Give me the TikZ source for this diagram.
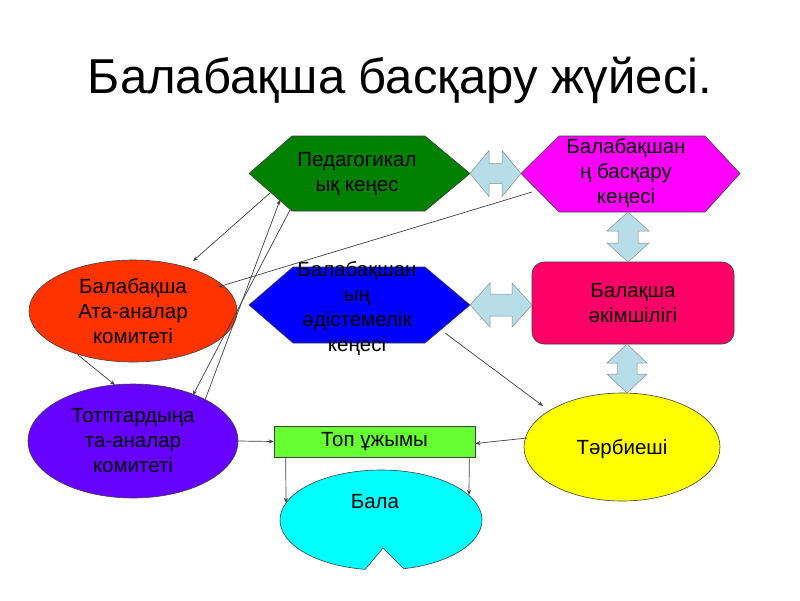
\documentclass[tikz,border=0pt]{standalone}
\usepackage{fontspec}
\setmainfont{Liberation Sans}
\usetikzlibrary{shapes.geometric,arrows.meta,calc}
\definecolor{hexgreen}{HTML}{008000}
\definecolor{hexmag}{HTML}{FF00FF}
\definecolor{hexblue}{HTML}{0000FF}
\definecolor{admred}{HTML}{FF0066}
\definecolor{parorange}{HTML}{FF3300}
\definecolor{grppurple}{HTML}{6600FF}
\definecolor{teamlime}{HTML}{66FF33}
\definecolor{childcyan}{HTML}{00FFFF}
\definecolor{tchyellow}{HTML}{FFFF00}
\definecolor{arrowblue}{HTML}{B7DDE8}
\begin{document}
\begin{tikzpicture}[x=1pt,y=-1pt,
  shapeline/.style={draw=black!75, line width=0.6pt},
  txt/.style={font=\fontsize{20.5}{25}\selectfont, align=center, text=black, inner sep=0pt},
  conn/.style={draw=black!75, line width=0.7pt, -{Stealth[length=5pt,width=4pt]}},
  fat/.style={draw=black!45, line width=0.5pt, fill=arrowblue},
  ell/.style={ellipse, shapeline, inner sep=0pt},
]
\useasboundingbox[fill=white] (0,0) rectangle (800,600);

% title
\node[font=\fontsize{49}{58}\selectfont, anchor=base, inner sep=0pt] (title) at (400,93) {Балабақша басқару жүйесі.};

% hexagons
\path[shapeline, fill=hexgreen] (249,173.5) -- (292,136) -- (425,136) -- (470,173.5) -- (425,211) -- (292,211) -- cycle;
\node[txt] (ped) at (357,174) {Педагогикал\\ық кеңес};

\path[shapeline, fill=hexmag] (521,173.5) -- (559,136) -- (705,136) -- (740,173.5) -- (705,212) -- (559,212) -- cycle;
\node[txt] (board) at (626,173) {Балабақшан\\ң басқару\\кеңесі};

\path[shapeline, fill=hexblue] (249,305) -- (293,267) -- (425,267) -- (470,305) -- (425,343) -- (293,343) -- cycle;
\node[txt] (method) at (357,309) {Балабақшан\\ың\\әдістемелік\\кеңесі};

% administration
\node[shapeline, fill=admred, rounded corners=12pt, minimum width=202pt, minimum height=82pt, txt] (adm) at (633,303) {Балақша\\әкімшілігі};

% ellipses
\node[ell, fill=parorange, minimum width=208pt, minimum height=102pt] (par) at (133,311) {};
\node[txt] (partxt) at (par) {Балабақша\\Ата-аналар\\комитеті};

\node[ell, fill=grppurple, minimum width=210pt, minimum height=114pt] (grp) at (133,441) {};
\node[txt] (grptxt) at (133,441) {Тотптардыңа\\та-аналар\\комитеті};

\node[ell, fill=tchyellow, minimum width=196pt, minimum height=108pt] (tch) at (622,447) {};
\node[txt] (tchtxt) at (622,449) {Тәрбиеші};

% team
\node[shapeline, fill=teamlime, minimum width=201pt, minimum height=31pt, txt] (team) at (374.5,441.5) {Топ ұжымы};

% child (ellipse with notch)
\path[shapeline, fill=childcyan] (381,520) ++(77:101 and 50) arc[start angle=77, end angle=-261, x radius=101, y radius=50] -- (383,548) -- cycle;
\node[txt] (child) at (375,502) {Бала};

% fat double arrows
\coordinate (pedR) at (470,173.5);
\coordinate (magL) at (521,173.5);
\path[fat] let \p1=(pedR), \p2=(magL) in (\x1,\y1) -- (\x1+19pt,\y1+23pt) -- (\x1+19pt,\y1+10pt) -- (\x2-19pt,\y1+10pt) -- (\x2-19pt,\y1+23pt) -- (\x2,\y1) -- (\x2-19pt,\y1-23pt) -- (\x2-19pt,\y1-10pt) -- (\x1+19pt,\y1-10pt) -- (\x1+19pt,\y1-23pt) -- cycle;

\coordinate (metR) at (470,305);
\coordinate (admL) at (532,305);
\path[fat] let \p1=(metR), \p2=(admL) in (\x1,\y1) -- (\x1+20pt,\y1+22pt) -- (\x1+20pt,\y1+11pt) -- (\x2-20pt,\y1+11pt) -- (\x2-20pt,\y1+22pt) -- (\x2,\y1) -- (\x2-20pt,\y1-22pt) -- (\x2-20pt,\y1-11pt) -- (\x1+20pt,\y1-11pt) -- (\x1+20pt,\y1-22pt) -- cycle;

\coordinate (magB) at (628,212);
\coordinate (admT) at (628,262);
\path[fat] let \p1=(magB), \p2=(admT) in (\x1,\y1) -- (\x1+21pt,\y1-19pt) -- (\x1+10pt,\y1-19pt) -- (\x1+10pt,\y2+19pt) -- (\x1+21pt,\y2+19pt) -- (\x1,\y2) -- (\x1-21pt,\y2+19pt) -- (\x1-10pt,\y2+19pt) -- (\x1-10pt,\y1-19pt) -- (\x1-21pt,\y1-19pt) -- cycle;

\coordinate (admB) at (627,344);
\coordinate (tchT) at (627,393);
\path[fat] let \p1=(admB), \p2=(tchT) in (\x1,\y1) -- (\x1+20pt,\y1-19pt) -- (\x1+10pt,\y1-19pt) -- (\x1+10pt,\y2+19pt) -- (\x1+20pt,\y2+19pt) -- (\x1,\y2) -- (\x1-20pt,\y2+19pt) -- (\x1-10pt,\y2+19pt) -- (\x1-10pt,\y1-19pt) -- (\x1-20pt,\y1-19pt) -- cycle;

% thin connectors
\coordinate (pedSW) at (270,193);
\coordinate (parN) at (193,261);
\draw[conn] (pedSW) -- (parN);
\coordinate (magSW) at (532,192);
\coordinate (parNE) at (218,287);
\draw[conn] (magSW) -- (parNE);
\coordinate (pedB1) at (290,210);
\coordinate (grpN1) at (193,395);
\draw[conn] (pedB1) -- (grpN1);
\coordinate (grpN2) at (205,400);
\coordinate (pedB2) at (280,200);
\draw[conn] (grpN2) -- (pedB2);
\coordinate (parS) at (78,355);
\coordinate (grpNW) at (115,385);
\draw[conn] (parS) -- (grpNW);
\coordinate (metSE) at (445,333);
\coordinate (tchNW) at (543,406);
\draw[conn] (metSE) -- (tchNW);
\coordinate (tchW) at (527,438);
\draw[conn] (tchW) -- ([yshift=-2pt]team.east);
\draw[conn] (grp.east) -- (team.west);
\coordinate (childL) at (286,503);
\coordinate (childR) at (469,495);
\draw[conn] ([xshift=12pt]team.south west) -- (childL);
\draw[conn] ([xshift=-6pt]team.south east) -- (childR);
\end{tikzpicture}
\end{document}
